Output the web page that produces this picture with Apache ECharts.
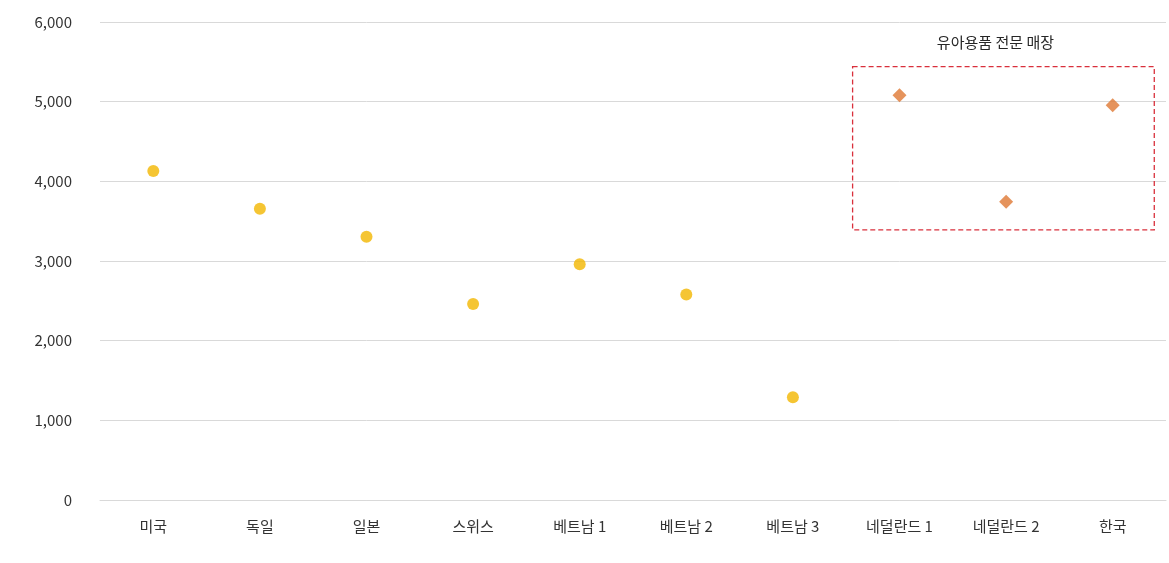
<!DOCTYPE html>
<html>
<head>
<meta charset="utf-8">
<script src="https://cdn.jsdelivr.net/npm/echarts@6/dist/echarts.min.js"></script>
<style>
html,body{margin:0;padding:0;background:#fff;}
#c{width:1169px;height:563px;}
</style>
</head>
<body>
<div id="c"></div>
<script>
const categories = ['미국','독일','일본','스위스','베트남 1','베트남 2','베트남 3','네덜란드 1','네덜란드 2','한국'];
const generalStores = [4130, 3655, 3305, 2460, 2960, 2580, 1290, '-', '-', '-'];
const babyStores = ['-', '-', '-', '-', '-', '-', '-', 5080, 3745, 4955];
const yTicks = [0, 1000, 2000, 3000, 4000, 5000, 6000];
const annotationText = '유아용품 전문 매장';
const boxRange = [3390, 5440];

const FONT = '"Noto Sans CJK KR", "Noto Sans", sans-serif';
const chart = echarts.init(document.getElementById('c'), null, {renderer: 'canvas'});
const option = {
  animation: false,
  backgroundColor: '#ffffff',
  grid: {left: 100, right: 3, top: 22, bottom: 63},
  xAxis: {
    type: 'category',
    data: categories,
    boundaryGap: true,
    axisLine: {show: true, lineStyle: {color: '#d9d9d9', width: 1}},
    axisTick: {show: false},
    axisLabel: {color: '#333333', fontSize: 15, fontFamily: FONT, margin: 19}
  },
  yAxis: {
    type: 'value',
    min: yTicks[0],
    max: yTicks[yTicks.length - 1],
    interval: 1000,
    axisLine: {show: false},
    axisTick: {show: false},
    splitLine: {lineStyle: {color: '#d9d9d9', width: 1}},
    axisLabel: {
      color: '#333333', fontSize: 15, fontFamily: FONT, margin: 28,
      formatter: v => v.toLocaleString('en-US')
    }
  },
  series: [
    {
      type: 'scatter',
      data: generalStores,
      symbol: 'circle',
      symbolSize: 12,
      itemStyle: {color: '#f2b700'}
    },
    {
      type: 'scatter',
      data: babyStores,
      symbol: 'diamond',
      symbolSize: 14,
      itemStyle: {color: '#de7833'}
    }
  ]
};
chart.setOption(option);

const x7 = chart.convertToPixel({xAxisIndex: 0}, 7);
const x8 = chart.convertToPixel({xAxisIndex: 0}, 8);
const x9 = chart.convertToPixel({xAxisIndex: 0}, 9);
const band = x8 - x7;
const yTop = chart.convertToPixel({yAxisIndex: 0}, boxRange[1]);
const yBot = chart.convertToPixel({yAxisIndex: 0}, boxRange[0]);
const left = x7 - 0.44 * band;
const right = x9 + 0.39 * band;
chart.setOption({
  graphic: [
    {
      type: 'rect',
      shape: {x: left, y: yTop, width: right - left, height: yBot - yTop},
      style: {fill: 'none', stroke: '#d9303c', lineWidth: 1.3, lineDash: [5, 3]},
      z: 10
    },
    {
      type: 'text',
      x: (left + right) / 2 - 8,
      y: yTop - 24,
      style: {text: annotationText, fill: '#262626', font: '15px ' + FONT, textAlign: 'center', textVerticalAlign: 'middle'},
      z: 10
    }
  ]
});
</script>
</body>
</html>
